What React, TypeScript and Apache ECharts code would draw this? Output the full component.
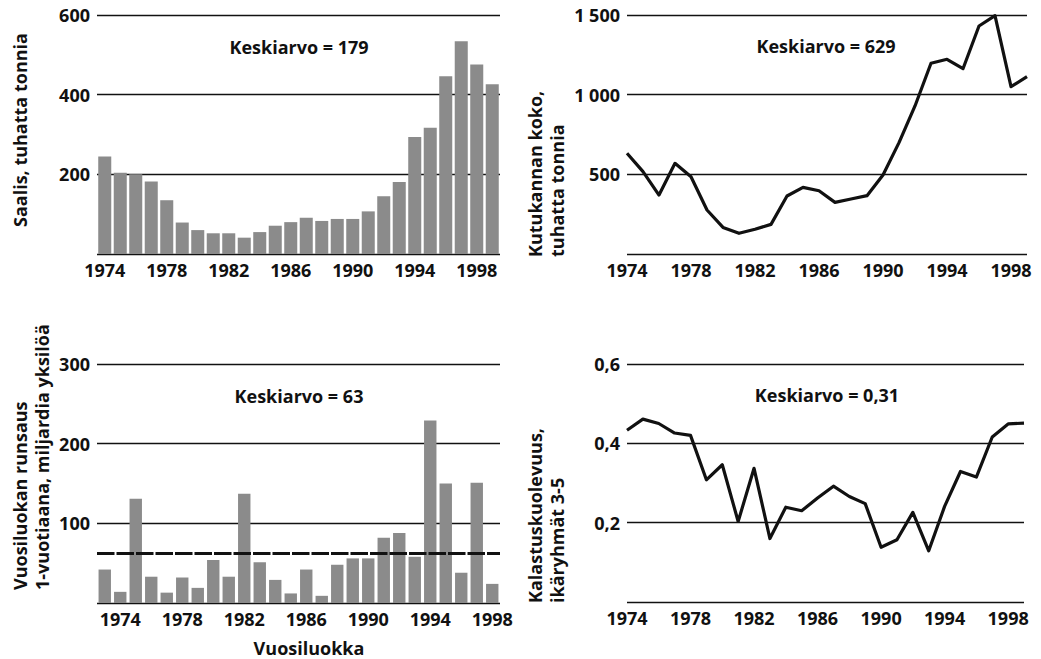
import React, { useEffect, useRef } from "react";
import * as echarts from "echarts";

const years1 = ["1974","1975","1976","1977","1978","1979","1980","1981","1982","1983","1984","1985","1986","1987","1988","1989","1990","1991","1992","1993","1994","1995","1996","1997","1998","1999"];
const years3 = ["1973","1974","1975","1976","1977","1978","1979","1980","1981","1982","1983","1984","1985","1986","1987","1988","1989","1990","1991","1992","1993","1994","1995","1996","1997","1998"];

const catch1 = [245,204,200,182,135,79,60,52,52,41,55,71,80,91,83,88,88,107,145,181,294,317,446,534,476,426];
const spawning2 = [632,517,370,569,485,276,167,130,155,186,364,418,397,324,345,366,496,699,929,1197,1222,1163,1431,1496,1050,1113];
const recruits3 = [42,14,131,33,13,32,19,54,33,137,51,29,12,42,9,48,56,56,82,88,58,229,150,38,151,24];
const fishing4 = [0.433,0.461,0.450,0.426,0.420,0.308,0.346,0.203,0.337,0.160,0.239,0.230,0.262,0.292,0.266,0.248,0.138,0.157,0.226,0.129,0.241,0.329,0.315,0.416,0.449,0.451];

const mean1 = 179;
const mean2 = 629;
const mean3 = 63;
const mean4 = "0,31";

const FONT = "'Open Sans', 'Noto Sans', sans-serif";
const INK = "#111111";

export default function App() {
  const ref = useRef<HTMLDivElement>(null);
  useEffect(() => {
    if (!ref.current) return;
    const chart = echarts.init(ref.current, null, { renderer: "svg" });
    const labelStyle = { color: INK, fontFamily: FONT, fontWeight: 700, fontSize: 18 };
    const split = { show: true, lineStyle: { color: INK, width: 1.4 } };
    const hideZero = (fmt: (v: number) => string) => (v: number) => (v === 0 ? "" : fmt(v));
    const xCat = (gridIndex: number, data: string[], boundaryGap: boolean, interval: any) => ({
      type: "category",
      gridIndex,
      data,
      boundaryGap,
      axisLine: { show: false },
      axisTick: { show: false },
      axisLabel: { ...labelStyle, interval, margin: 7 },
    });
    const yVal = (gridIndex: number, max: number, interval: number, fmt: (v: number) => string) => ({
      type: "value",
      gridIndex,
      min: 0,
      max,
      interval,
      axisLine: { show: false },
      axisTick: { show: false },
      splitLine: split,
      axisLabel: { ...labelStyle, margin: 7, formatter: hideZero(fmt) },
    });
    const vText = (x: number, y: number, text: string) => ({
      type: "text",
      x,
      y,
      rotation: Math.PI / 2,
      style: {
        text,
        fill: INK,
        font: `700 18px ${FONT}`,
        textAlign: "left",
        textVerticalAlign: "middle",
        lineHeight: 22,
      },
    });
    const hText = (x: number, y: number, text: string) => ({
      type: "text",
      x,
      y,
      style: {
        text,
        fill: INK,
        font: `700 18px ${FONT}`,
        textAlign: "center",
        textVerticalAlign: "middle",
      },
    });
    chart.setOption({
      animation: false,
      backgroundColor: "#ffffff",
      grid: [
        { left: 97, top: 15, width: 403, height: 239 },
        { left: 627, top: 15, width: 400, height: 239 },
        { left: 97, top: 364, width: 403, height: 239 },
        { left: 627, top: 364, width: 397, height: 238 },
      ],
      xAxis: [
        xCat(0, years1, true, 3),
        xCat(1, years1, false, 3),
        xCat(2, years3, true, (i: number, v: string) => (Number(v) - 1974) % 4 === 0),
        xCat(3, years1, false, 3),
      ],
      yAxis: [
        yVal(0, 600, 200, (v) => String(v)),
        yVal(1, 1500, 500, (v) => (v >= 1000 ? `${Math.floor(v / 1000)} ${String(v % 1000).padStart(3, "0")}` : String(v))),
        yVal(2, 300, 100, (v) => String(v)),
        yVal(3, 0.6, 0.2, (v) => v.toFixed(1).replace(".", ",")),
      ],
      series: [
        {
          type: "bar",
          xAxisIndex: 0,
          yAxisIndex: 0,
          data: catch1,
          barCategoryGap: "16%",
          itemStyle: { color: "#8b8b8b" },
        },
        {
          type: "line",
          xAxisIndex: 1,
          yAxisIndex: 1,
          data: spawning2,
          symbol: "none",
          lineStyle: { color: INK, width: 3.2, join: "round" },
        },
        {
          type: "bar",
          xAxisIndex: 2,
          yAxisIndex: 2,
          data: recruits3,
          barCategoryGap: "20%",
          itemStyle: { color: "#8b8b8b" },
          markLine: {
            silent: true,
            symbol: "none",
            label: { show: false },
            lineStyle: { color: INK, width: 3, type: [17.5, 2] },
            data: [{ yAxis: mean3 }],
          },
        },
        {
          type: "line",
          xAxisIndex: 3,
          yAxisIndex: 3,
          data: fishing4,
          symbol: "none",
          lineStyle: { color: INK, width: 3.2, join: "round" },
        },
      ],
      graphic: [
        hText(299, 47, `Keskiarvo = ${mean1}`),
        hText(826, 46, `Keskiarvo = ${mean2}`),
        hText(299, 396, `Keskiarvo = ${mean3}`),
        hText(827, 395, `Keskiarvo = ${mean4}`),
        hText(309, 648, "Vuosiluokka"),
        vText(20, 227, "Saalis, tuhatta tonnia"),
        vText(546, 257, "Kutukannan koko,\ntuhatta tonnia"),
        vText(31, 590, "Vuosiluokan runsaus\n1-vuotiaana, miljardia yksilöä"),
        vText(546, 603, "Kalastuskuolevuus,\nikäryhmät 3-5"),
      ],
    });
    return () => chart.dispose();
  }, []);
  return (
    <div
      ref={ref}
      style={{ position: "fixed", left: 0, top: 0, width: 1041, height: 659, background: "#fff" }}
    />
  );
}
